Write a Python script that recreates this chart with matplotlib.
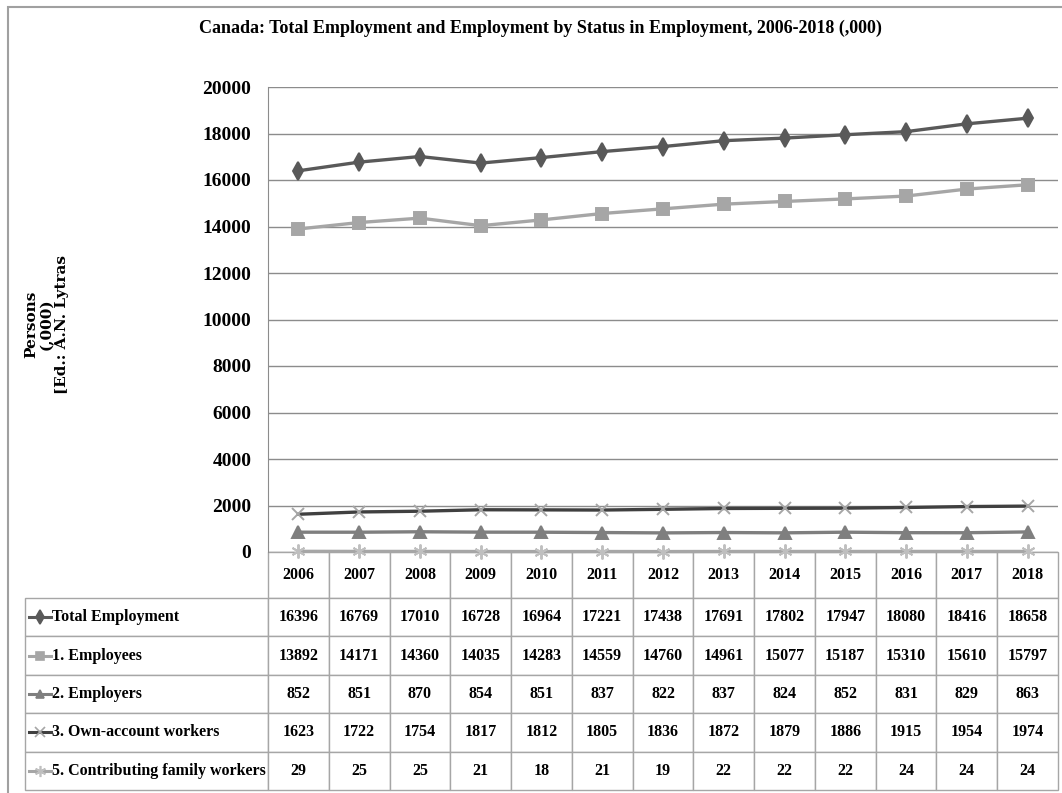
import matplotlib
matplotlib.use("Agg")
import matplotlib.pyplot as plt
from matplotlib.table import Table
from matplotlib.patches import Rectangle


# ── Data ──────────────────────────────────────────────────────────────────────
YEARS = [2006, 2007, 2008, 2009, 2010, 2011, 2012, 2013, 2014, 2015, 2016, 2017, 2018]

TOTAL = [16396, 16769, 17010, 16728, 16964, 17221, 17438, 17691, 17802, 17947, 18080, 18416, 18658]
EMPLOYEES = [13892, 14171, 14360, 14035, 14283, 14559, 14760, 14961, 15077, 15187, 15310, 15610, 15797]
EMPLOYERS = [852, 851, 870, 854, 851, 837, 822, 837, 824, 852, 831, 829, 863]
OWN_ACCOUNT = [1623, 1722, 1754, 1817, 1812, 1805, 1836, 1872, 1879, 1886, 1915, 1954, 1974]
FAMILY = [29, 25, 25, 21, 18, 21, 19, 22, 22, 22, 24, 24, 24]

SERIES_LABELS = [
    "Total Employment",
    "1. Employees",
    "2. Employers",
    "3. Own-account workers",
    "5. Contributing family workers",
]
Y_TICKS = list(range(0, 20001, 2000))

TITLE = "Canada: Total Employment and Employment by Status in Employment, 2006-2018 (,000)"
YLABEL = "Persons\n(,000)\n[Ed.: A.N. Lytras"

# line colour, marker, marker face, marker edge, marker size
STYLES = [
    ("#595959", "d", "#595959", "#595959", 9),
    ("#A6A6A6", "s", "#A6A6A6", "#A6A6A6", 8),
    ("#7F7F7F", "^", "#7F7F7F", "#7F7F7F", 8),
    ("#404040", "x", "#A6A6A6", "#A6A6A6", 9),
    ("#A6A6A6", (6, 2, 0), "#BFBFBF", "#BFBFBF", 10),
]

SERIF = "Liberation Serif"
GRID = "#8C8C8C"
TABLE_EDGE = "#A6A6A6"

# ── Layout (pixels of the 1062x793 figure) ────────────────────────────────────
W, H = 1062, 793
AX_L, AX_R, AX_T, AX_B = 268, 1058, 87, 552
LABEL_L = 25
HEAD_H, ROW_H = 46, 38.4

fig = plt.figure(figsize=(W / 100, H / 100), dpi=100)
fig.patch.set_facecolor("white")
ax = fig.add_axes([AX_L / W, 1 - AX_B / H, (AX_R - AX_L) / W, (AX_B - AX_T) / H])

x = list(range(len(YEARS)))
all_series = [TOTAL, EMPLOYEES, EMPLOYERS, OWN_ACCOUNT, FAMILY]
for vals, (lc, mk, mfc, mec, ms) in zip(all_series, STYLES):
    ax.plot(x, vals, color=lc, linewidth=2.4, marker=mk, markersize=ms,
            markerfacecolor=mfc, markeredgecolor=mec, markeredgewidth=1.4,
            zorder=3, clip_on=False)

ax.set_xlim(-0.5, len(YEARS) - 0.5)
ax.set_ylim(0, 20000)
ax.set_yticks(Y_TICKS)
ax.set_yticklabels([str(t) for t in Y_TICKS], fontfamily=SERIF,
                   fontweight="bold", fontsize=14)
ax.tick_params(axis="y", length=0, pad=12)
ax.set_xticks([])
ax.yaxis.grid(True, color=GRID, linewidth=1)
ax.set_axisbelow(True)
for side in ["top", "right", "bottom"]:
    ax.spines[side].set_visible(False)
ax.spines["left"].set_color(GRID)

# ── Data table under the plot ────────────────────────────────────────────────
ax_w = AX_R - AX_L
ax_h = AX_B - AX_T
col_w = 1 / len(YEARS)
lab_w = (AX_L - LABEL_L) / ax_w
head_h = HEAD_H / ax_h
row_h = ROW_H / ax_h
tot_h = head_h + row_h * len(SERIES_LABELS)

# bbox covers the value grid only; the label column hangs off to the left
tbl = Table(ax, bbox=[0, -tot_h, 1, tot_h])
tbl.auto_set_font_size(False)

corner = tbl.add_cell(0, -1, lab_w, head_h, text="")
corner.visible_edges = "open"
for j, yr in enumerate(YEARS):
    tbl.add_cell(0, j, col_w, head_h, text=str(yr), loc="center",
                 edgecolor=TABLE_EDGE)

for i, (label, vals) in enumerate(zip(SERIES_LABELS, all_series), start=1):
    c = tbl.add_cell(i, -1, lab_w, row_h, text=label, loc="left",
                     edgecolor=TABLE_EDGE)
    c.PAD = 0.11
    for j, v in enumerate(vals):
        tbl.add_cell(i, j, col_w, row_h, text=str(v), loc="center",
                     edgecolor=TABLE_EDGE)

for cell in tbl.get_celld().values():
    cell.set_linewidth(1)
    cell.get_text().set_fontfamily(SERIF)
    cell.get_text().set_fontsize(11.5)
    cell.get_text().set_fontweight("bold")
ax.add_table(tbl)

# legend keys inside the row labels
key_x0 = (29 - AX_L) / ax_w
key_x1 = (51 - AX_L) / ax_w
for i, (lc, mk, mfc, mec, ms) in enumerate(STYLES):
    yc = -(head_h + row_h * (i + 0.5))
    ax.plot([key_x0, key_x1], [yc, yc], color=lc, linewidth=2.2,
            transform=ax.transAxes, clip_on=False)
    ax.plot([(key_x0 + key_x1) / 2], [yc], marker=mk, markersize=ms * 0.8,
            markerfacecolor=mfc, markeredgecolor=mec, markeredgewidth=1.2,
            transform=ax.transAxes, clip_on=False)

# ── Title, axis label, frame ─────────────────────────────────────────────────
fig.text(540 / W, 1 - 28 / H, TITLE, ha="center", va="center",
         fontfamily=SERIF, fontweight="bold", fontsize=13)
fig.text(47 / W, 1 - 324 / H, YLABEL, rotation=90, ha="center", va="center",
         multialignment="center", fontfamily="DejaVu Serif",
         fontweight="bold", fontsize=11, linespacing=1.1)

fig.patches.append(Rectangle((8 / W, -0.05), 1.2, 1.05 - 7 / H,
                             transform=fig.transFigure, fill=False,
                             edgecolor="#A0A0A0", linewidth=1.5))

fig.savefig("out.png", dpi=100)
